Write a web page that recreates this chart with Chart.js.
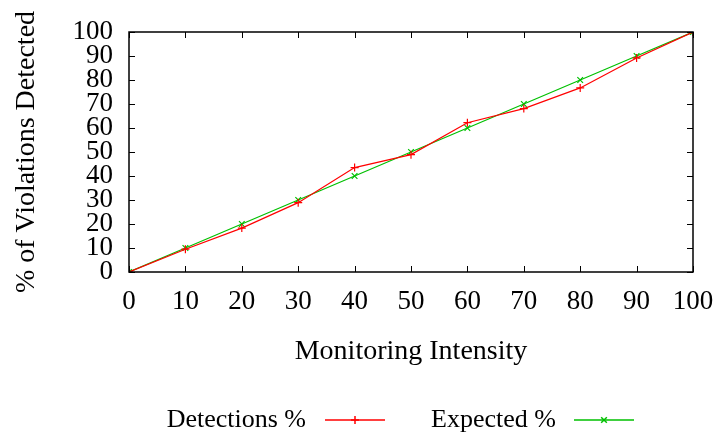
<!DOCTYPE html>
<html>
<head>
<meta charset="utf-8">
<script src="https://cdn.jsdelivr.net/npm/chart.js@4.4.1/dist/chart.umd.min.js"></script>
<style>
  html, body { margin: 0; padding: 0; background: #fff; }
  #wrap { width: 720px; height: 435px; position: relative; }
</style>
</head>
<body>
<div id="wrap"><canvas id="chart"></canvas></div>
<script>
const intensity = [0, 10, 20, 30, 40, 50, 60, 70, 80, 90, 100];
const detections = [0, 9.5, 18.3, 28.9, 43.5, 48.9, 62.2, 68.1, 76.7, 89.2, 100];
const expected = [0, 10, 20, 30, 40, 50, 60, 70, 80, 90, 100];

const serif = '"Liberation Serif", "Times New Roman", serif';
const tickSize = 27;
const titleSize = 28;
const keySize = 26;

// box round the plot with inward ticks on all four sides
const frame = {
  id: 'frame',
  afterDatasetsDraw(chart) {
    const { ctx, chartArea: a, scales } = chart;
    ctx.save();
    ctx.strokeStyle = '#000';
    ctx.lineWidth = 1;
    ctx.beginPath();
    scales.x.ticks.forEach(t => {
      const px = Math.round(scales.x.getPixelForValue(t.value)) + 0.5;
      ctx.moveTo(px, a.bottom); ctx.lineTo(px, a.bottom - 6);
      ctx.moveTo(px, a.top); ctx.lineTo(px, a.top + 6);
    });
    scales.y.ticks.forEach(t => {
      const py = Math.round(scales.y.getPixelForValue(t.value)) + 0.5;
      ctx.moveTo(a.left, py); ctx.lineTo(a.left + 6, py);
      ctx.moveTo(a.right, py); ctx.lineTo(a.right - 6, py);
    });
    ctx.stroke();
    ctx.lineWidth = 1.5;
    ctx.strokeRect(a.left, a.top, a.right - a.left, a.bottom - a.top);
    ctx.restore();
  }
};

// gnuplot style key: text then a line sample with the marker
const key = {
  id: 'key',
  afterDraw(chart) {
    const { ctx } = chart;
    const items = [
      { text: 'Detections %', textRight: 306, lineX: 325, ds: 0 },
      { text: 'Expected %', textRight: 556, lineX: 574, ds: 1 }
    ];
    const y = 420;
    ctx.save();
    ctx.font = keySize + 'px ' + serif;
    ctx.fillStyle = '#000';
    ctx.textAlign = 'right';
    ctx.textBaseline = 'middle';
    items.forEach(it => {
      const ds = chart.data.datasets[it.ds];
      ctx.fillText(it.text, it.textRight, y);
      ctx.strokeStyle = ds.borderColor;
      ctx.lineWidth = 1.5;
      ctx.beginPath();
      ctx.moveTo(it.lineX, y); ctx.lineTo(it.lineX + 60, y);
      ctx.stroke();
      Chart.helpers.drawPoint(ctx, {
        pointStyle: ds.pointStyle, radius: 4, rotation: 0, borderWidth: 1
      }, it.lineX + 30, y);
    });
    ctx.restore();
  }
};

new Chart(document.getElementById('chart'), {
  type: 'line',
  data: {
    labels: intensity,
    datasets: [
      {
        label: 'Detections %',
        data: detections,
        borderColor: '#ff0000',
        backgroundColor: '#ff0000',
        borderWidth: 1.2,
        pointStyle: 'cross',
        pointRadius: 4,
        pointBorderWidth: 1.2,
        tension: 0
      },
      {
        label: 'Expected %',
        data: expected,
        borderColor: '#00c000',
        backgroundColor: '#00c000',
        borderWidth: 1.2,
        pointStyle: 'crossRot',
        pointRadius: 4,
        pointBorderWidth: 1.2,
        tension: 0
      }
    ]
  },
  options: {
    responsive: true,
    maintainAspectRatio: false,
    animation: false,
    devicePixelRatio: 1,
    layout: { padding: { left: 0, right: 27, top: 32, bottom: 65 } },
    plugins: {
      legend: { display: false },
      tooltip: { enabled: false }
    },
    scales: {
      x: {
        type: 'linear',
        min: 0,
        max: 100,
        grid: { display: false },
        border: { display: false },
        ticks: {
          stepSize: 10,
          autoSkip: false,
          color: '#000',
          padding: 6,
          maxRotation: 0,
          font: { family: serif, size: tickSize }
        },
        title: {
          display: true,
          text: 'Monitoring Intensity',
          color: '#000',
          padding: { top: 0, bottom: 2 },
          font: { family: serif, size: titleSize }
        },
        afterFit(scale) { scale.height = 98; }
      },
      y: {
        min: 0,
        max: 100,
        grid: { display: false },
        border: { display: false },
        ticks: {
          stepSize: 10,
          autoSkip: false,
          color: '#000',
          padding: 8,
          font: { family: serif, size: tickSize }
        },
        title: {
          display: true,
          text: '% of Violations Detected',
          color: '#000',
          padding: { top: 10, bottom: 0 },
          font: { family: serif, size: titleSize }
        },
        afterFit(scale) { scale.width = 129; }
      }
    }
  },
  plugins: [frame, key]
});
</script>
</body>
</html>
